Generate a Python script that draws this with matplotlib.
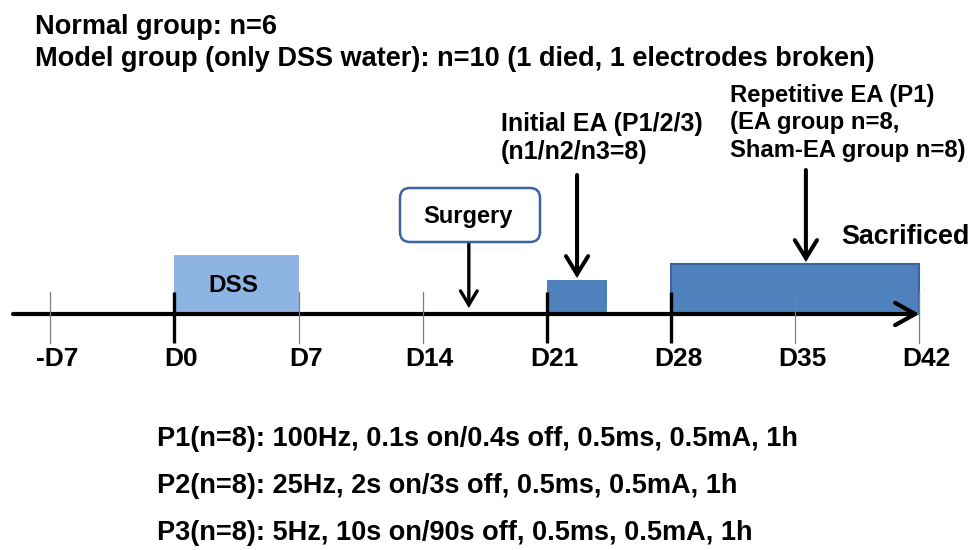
import matplotlib

matplotlib.use("Agg", force=True)
import matplotlib.pyplot as plt
from matplotlib.patches import FancyBboxPatch, Rectangle

# timeline data (days relative to DSS start)
DAYS = [-7, 0, 7, 14, 21, 28, 35, 42]
DAY_LABELS = ["-D7", "D0", "D7", "D14", "D21", "D28", "D35", "D42"]
MAJOR_DAYS = [0, 21, 28]
DSS_PERIOD = (0, 7)
INITIAL_EA_PERIOD = (21, 24.4)
REPETITIVE_EA_PERIOD = (28, 42)
SURGERY_DAY = 16.6
REPETITIVE_ARROW_DAY = 35.6

GROUP_LINES = [
    "Normal group: n=6",
    "Model group (only DSS water): n=10 (1 died, 1 electrodes broken)",
]
INITIAL_EA_LINES = ["Initial EA (P1/2/3)", "(n1/n2/n3=8)"]
REPETITIVE_EA_LINES = ["Repetitive EA (P1)", "(EA group n=8,", "Sham-EA group n=8)"]
PROTOCOLS = [
    "P1(n=8): 100Hz, 0.1s on/0.4s off, 0.5ms, 0.5mA, 1h",
    "P2(n=8): 25Hz, 2s on/3s off, 0.5ms, 0.5mA, 1h",
    "P3(n=8): 5Hz, 10s on/90s off, 0.5ms, 0.5mA, 1h",
]

LIGHT_BLUE = "#8EB4E3"
MID_BLUE = "#4F81BD"
DARK_BLUE = "#3B64A0"

plt.rcParams["font.family"] = ["Liberation Sans", "DejaVu Sans"]
plt.rcParams["font.weight"] = "bold"

W, H = 972, 550
fig = plt.figure(figsize=(W / 100, H / 100), dpi=100)

# marks live on a day axis, free text on a pixel overlay
ax = fig.add_axes([0, 0, 1, 1])
px_per_day = 17.74
x_left = 17.5 - 484.8 / px_per_day
ax.set_xlim(x_left, x_left + W / px_per_day)
ax.set_ylim(H, 0)
ax.axis("off")

ov = fig.add_axes([0, 0, 1, 1])
ov.set_xlim(0, W)
ov.set_ylim(H, 0)
ov.axis("off")
ov.patch.set_alpha(0)

axis_y = 314
tick_top, tick_bot = 292, 343


def down_arrow(x, y0, y1, lw, hl, hw):
    ax.annotate("", xy=(x, y1), xytext=(x, y0),
                arrowprops=dict(arrowstyle=f"->,head_length={hl},head_width={hw}", lw=lw, color="black",
                                mutation_scale=20, shrinkA=0, shrinkB=0, joinstyle="miter"))


# period boxes
ax.add_patch(Rectangle((DSS_PERIOD[0], 255), DSS_PERIOD[1] - DSS_PERIOD[0], axis_y - 255,
                       facecolor=LIGHT_BLUE, edgecolor="none", zorder=1))
ax.add_patch(Rectangle((INITIAL_EA_PERIOD[0], 280), INITIAL_EA_PERIOD[1] - INITIAL_EA_PERIOD[0], axis_y - 280,
                       facecolor=MID_BLUE, edgecolor="none", zorder=1))
ax.add_patch(Rectangle((REPETITIVE_EA_PERIOD[0], 264), REPETITIVE_EA_PERIOD[1] - REPETITIVE_EA_PERIOD[0],
                       axis_y - 264, facecolor=MID_BLUE, edgecolor=DARK_BLUE, lw=1.5, zorder=1))
ax.text(sum(DSS_PERIOD) / 2 - 0.2, 285, "DSS", ha="center", va="center", fontsize=17.5, zorder=3)

# ticks and labels
for day, label in zip(DAYS, DAY_LABELS):
    if day in MAJOR_DAYS:
        ax.plot([day, day], [tick_top, tick_bot], color="black", lw=2.4, zorder=3, solid_capstyle="butt")
    else:
        ax.plot([day, day], [tick_top, tick_bot], color="#7f7f7f", lw=0.9, zorder=3)
    ax.text(day + 0.4, 359, label, ha="center", va="center", fontsize=19)

# main time axis
ax.annotate("", xy=(REPETITIVE_EA_PERIOD[1], axis_y), xytext=(x_left + 13 / px_per_day, axis_y),
            arrowprops=dict(arrowstyle="->,head_length=0.72,head_width=0.4", lw=3.0, color="black",
                            mutation_scale=20, shrinkA=0, shrinkB=0), zorder=2)

# surgery
surgery_box = FancyBboxPatch((400, 188), 140, 54, boxstyle="round,pad=0,rounding_size=10",
                             facecolor="white", edgecolor=DARK_BLUE, lw=1.8, zorder=2)
ov.add_patch(surgery_box)
ov.text(468, 216, "Surgery", ha="center", va="center", fontsize=17)
down_arrow(SURGERY_DAY, 242, 308, 2.4, 0.5, 0.3)

# EA arrows
down_arrow(sum(INITIAL_EA_PERIOD) / 2, 175, 278, 2.9, 0.65, 0.4)
down_arrow(REPETITIVE_ARROW_DAY, 170, 262, 2.9, 0.65, 0.4)

# free text
ov.text(35, 26.5, GROUP_LINES[0], ha="left", va="center", fontsize=19.5)
ov.text(35, 59, GROUP_LINES[1], ha="left", va="center", fontsize=19.5)
for i, line in enumerate(INITIAL_EA_LINES):
    ov.text(501, 124 + i * 27.5, line, ha="left", va="center", fontsize=18)
for i, line in enumerate(REPETITIVE_EA_LINES):
    ov.text(730, 95.5 + i * 27.5, line, ha="left", va="center", fontsize=17.2)
ov.text(970, 237, "Sacrificed", ha="right", va="center", fontsize=19.4)
for i, line in enumerate(PROTOCOLS):
    ov.text(157, 439 + i * 47, line, ha="left", va="center", fontsize=19.5)

fig.savefig("out.png", dpi=100)
